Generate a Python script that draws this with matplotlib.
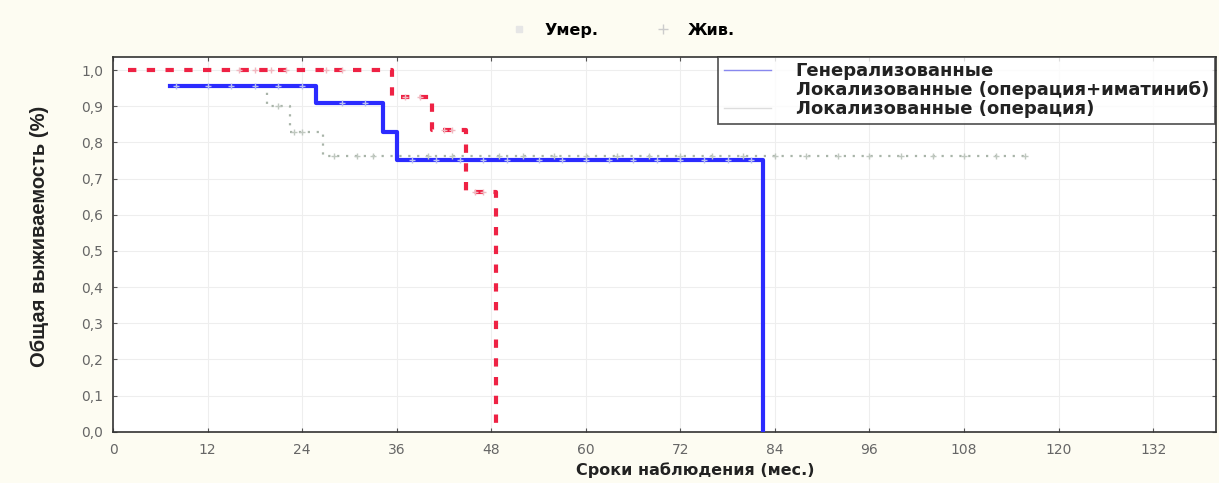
import matplotlib
matplotlib.use("Agg")
import matplotlib.pyplot as plt
from matplotlib.lines import Line2D
from matplotlib import font_manager

# Data (months, survival)
gen_t = [7.2, 25.7, 25.7, 34.3, 34.3, 36.1, 36.1, 82.5, 82.5]
gen_s = [0.956, 0.956, 0.91, 0.91, 0.83, 0.83, 0.751, 0.751, 0.0]
gen_cens_t = [8, 12, 15, 18, 21, 24, 29, 32, 38, 41, 44, 47, 50, 54, 57, 60, 63, 66, 69, 72, 75, 78, 81]

imat_t = [1.9, 35.4, 35.4, 40.5, 40.5, 44.8, 44.8, 48.6, 48.6]
imat_s = [1.0, 1.0, 0.925, 0.925, 0.834, 0.834, 0.663, 0.663, 0.0]
imat_cens_t = [16, 18, 20, 22, 27, 29, 37, 39, 42, 43, 46, 47]

op_t = [8.0, 19.5, 19.5, 22.4, 22.4, 26.6, 26.6, 115.7]
op_s = [0.956, 0.956, 0.90, 0.90, 0.83, 0.83, 0.762, 0.762]
op_cens_t = [21, 23, 24, 28, 31, 33, 40, 43, 49, 52, 56, 60, 64, 68, 72, 76, 80, 84, 88, 92, 96, 100, 104, 108, 112, 115.7]

x_ticks = [0, 12, 24, 36, 48, 60, 72, 84, 96, 108, 120, 132]
y_ticks = [0.0, 0.1, 0.2, 0.3, 0.4, 0.5, 0.6, 0.7, 0.8, 0.9, 1.0]
series_labels = ["Генерализованные", "Локализованные (операция+иматиниб)", "Локализованные (операция)"]

def step_value(ts, ss, x):
    val = ss[0]
    for t, s in zip(ts, ss):
        if t <= x:
            val = s
    return val

plt.rcParams['font.family'] = ['DejaVu Sans']

available = {f.name for f in font_manager.fontManager.ttflist}
ylab_family = 'Liberation Sans Narrow' if 'Liberation Sans Narrow' in available else (
    'DejaVu Sans Condensed' if 'DejaVu Sans Condensed' in available else 'Liberation Sans')

fig = plt.figure(figsize=(12.19, 4.83), dpi=100)
fig.patch.set_facecolor('#fdfcf2')
ax = fig.add_axes([0.0927, 0.106, 0.905, 0.776])
ax.set_facecolor('white')

blue = '#2b2bff'
red = '#ee2244'
gray = '#a8b4a8'

ax.plot(op_t, op_s, color=gray, lw=1.6, ls=(0, (1, 3)), zorder=2)
ax.plot(gen_t, gen_s, color=blue, lw=3, zorder=3)
ax.plot(imat_t, imat_s, color=red, lw=3, ls=(0, (2, 2.5)), zorder=4)

ax.plot(op_cens_t, [step_value(op_t, op_s, x) for x in op_cens_t], ls='none',
        marker='+', ms=5, mew=1, color='#c0c8c0', zorder=5)
ax.plot(gen_cens_t, [step_value(gen_t, gen_s, x) for x in gen_cens_t], ls='none',
        marker='+', ms=5, mew=1, color='#b8c0f0', zorder=5)
ax.plot(imat_cens_t, [step_value(imat_t, imat_s, x) for x in imat_cens_t], ls='none',
        marker='+', ms=5, mew=1, color='#f0b8c0', zorder=5)

ax.set_xlim(0, 140)
ax.set_ylim(0, 1.036)
ax.set_xticks(x_ticks)
ax.set_xticklabels([str(v) for v in x_ticks])
ax.set_yticks(y_ticks)
ax.set_yticklabels([f"{v:.1f}".replace('.', ',') for v in y_ticks])
ax.grid(True, color='#eeeeee', lw=0.8)
ax.tick_params(axis='both', direction='in', length=3, color='#555555',
               labelcolor='#666666', labelsize=10, top=True, right=True)
ax.tick_params(axis='x', pad=8)
ax.tick_params(axis='y', pad=7)
for sp in ax.spines.values():
    sp.set_color('#333333')
    sp.set_linewidth(1.2)

fig.text(695 / 1219, 1 - 470 / 483, "Сроки наблюдения (мес.)", fontsize=11.5, fontweight='bold',
         color='#222222', ha='center', va='center')
fig.text(40 / 1219, 1 - 236 / 483, "Общая выживаемость (%)", fontsize=14.5, fontweight='bold',
         color='#222222', ha='center', va='center', rotation=90,
         family=[ylab_family, 'DejaVu Sans'])

handles = [Line2D([0], [0], color='#8888ee', lw=1),
           Line2D([0], [0], color='#ffffff', lw=1),
           Line2D([0], [0], color='#dddddd', lw=1)]
leg = ax.legend(handles, series_labels, loc='upper right', bbox_to_anchor=(0.9985, 1.0),
                frameon=True, fancybox=False, handlelength=2.6, handletextpad=1.4,
                borderpad=0.3, labelspacing=0.05, borderaxespad=0.0,
                prop={'weight': 'bold', 'size': 13})
leg.get_frame().set_edgecolor('#333333')
leg.get_frame().set_linewidth(1.3)
for t in leg.get_texts():
    t.set_color('#222222')

top_handles = [Line2D([0], [0], ls='none', marker='s', ms=5, mfc='#e6e6e6', mec='#e6e6e6'),
               Line2D([0], [0], ls='none', marker='+', ms=7, color='#cccccc')]
fig.legend(top_handles, ["Умер.", "Жив."], loc='center', bbox_to_anchor=(0.508, 0.937),
           ncol=2, frameon=False, columnspacing=3.0, handletextpad=0.6,
           prop={'weight': 'bold', 'size': 11.5})

fig.savefig("out.png", dpi=100, facecolor=fig.get_facecolor())
